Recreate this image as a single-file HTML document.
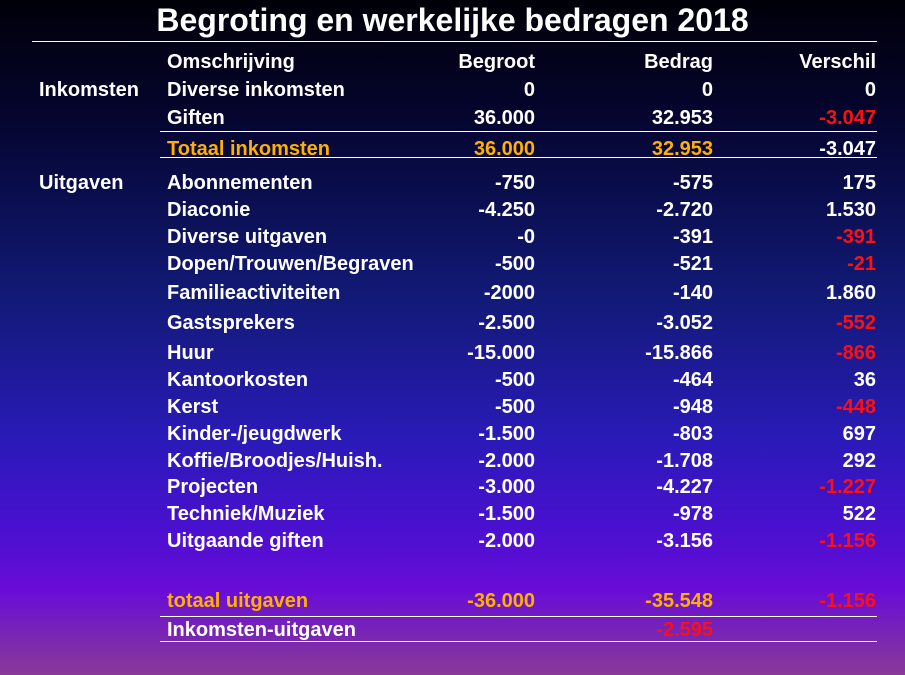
<!DOCTYPE html>
<html><head><meta charset="utf-8"><style>
html,body{margin:0;padding:0}
body{width:905px;height:675px;overflow:hidden;position:relative;font-family:"Liberation Sans",Arial,sans-serif;font-weight:bold;color:#fff;
background:linear-gradient(to bottom,#000008 0px,#050530 120px,#121a78 300px,#2a1ab8 440px,#4a10d0 530px,#6a0cd8 590px,#7a28b0 640px,#8a3a98 675px);}
.t{position:absolute;font-size:20px;line-height:24px;white-space:nowrap}
.line{position:absolute;height:1px;background:#fff}
h1{position:absolute;left:0;width:905px;top:1px;margin:0;text-align:center;font-size:32px;line-height:38px}
</style></head><body>
<h1>Begroting en werkelijke bedragen 2018</h1>
<div class="line" style="left:32px;width:845px;top:41px"></div>
<div class="line" style="left:160px;width:717px;top:131px"></div>
<div class="line" style="left:160px;width:717px;top:157px"></div>
<div class="line" style="left:160px;width:717px;top:616px"></div>
<div class="line" style="left:160px;width:717px;top:641px"></div>
<div class="t" style="left:39px;top:78px">Inkomsten</div>
<div class="t" style="left:39px;top:171px">Uitgaven</div>
<script>
const labels=["Omschrijving","Diverse inkomsten","Giften","Totaal inkomsten","Abonnementen","Diaconie","Diverse uitgaven","Dopen/Trouwen/Begraven","Familieactiviteiten","Gastsprekers","Huur","Kantoorkosten","Kerst","Kinder-/jeugdwerk","Koffie/Broodjes/Huish.","Projecten","Techniek/Muziek","Uitgaande giften","totaal uitgaven","Inkomsten-uitgaven"];
const begroot=["Begroot","0","36.000","36.000","-750","-4.250","-0","-500","-2000","-2.500","-15.000","-500","-500","-1.500","-2.000","-3.000","-1.500","-2.000","-36.000",""];
const bedrag=["Bedrag","0","32.953","32.953","-575","-2.720","-391","-521","-140","-3.052","-15.866","-464","-948","-803","-1.708","-4.227","-978","-3.156","-35.548","-2.595"];
const verschil=["Verschil","0","-3.047","-3.047","175","1.530","-391","-21","1.860","-552","-866","36","-448","697","292","-1.227","522","-1.156","-1.156",""];
const rowY=[62,90,118,149,183,210,237,264,293,323,353,380,407,434,461,487,514,541,601,630];
const RED="#ff1010",ORG="#ffb000";
function colr(i,c,v){
  if(i===3&&c<3) return ORG;
  if(i===18&&c<3) return ORG;
  if(i===19&&c===2) return RED;
  if(c===3&&i!==3&&i>0&&v.startsWith("-")) return RED;
  return "#fff";
}
const cols=[{a:labels,x:167,r:false},{a:begroot,x:535,r:true},{a:bedrag,x:713,r:true},{a:verschil,x:876,r:true}];
labels.forEach((_,i)=>{
  cols.forEach((c,ci)=>{
    const v=c.a[i]; if(v==="")return;
    const d=document.createElement('div');
    d.className='t';
    
    
    d.textContent=v;
    d.style.top=(rowY[i]-12)+'px';
    if(c.r){d.style.right=(905-c.x)+'px';}else{d.style.left=c.x+'px';}
    d.style.color=colr(i,ci,v);
    document.body.appendChild(d);
  });
});
</script>
</body></html>
